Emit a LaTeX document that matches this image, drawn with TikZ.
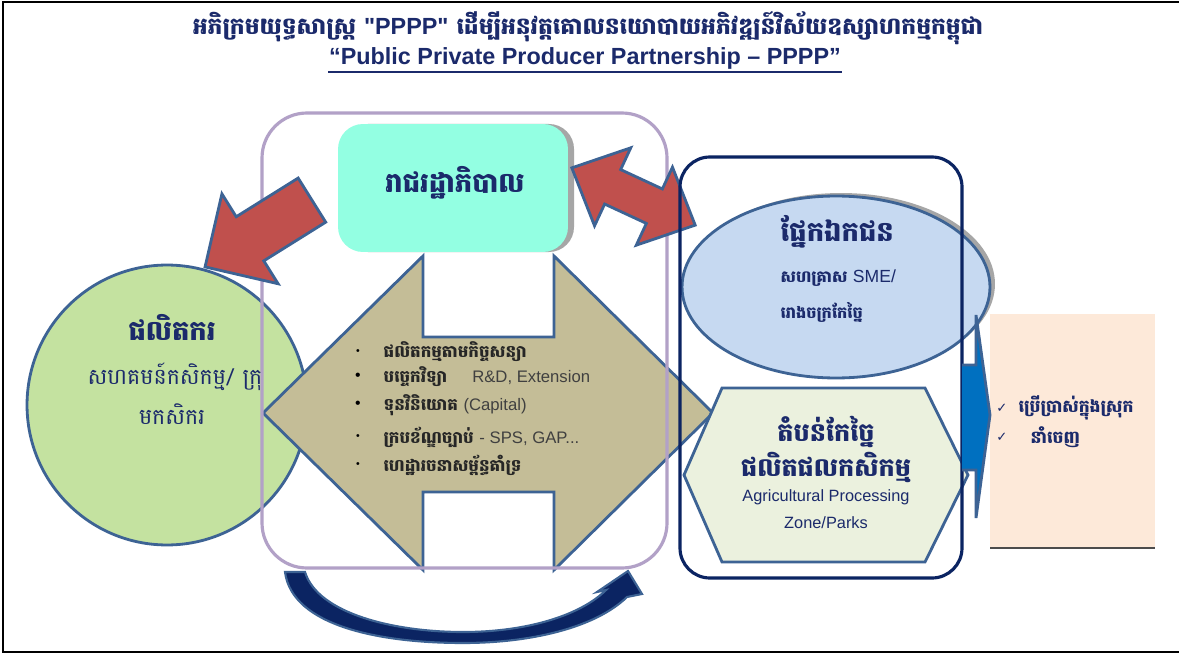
\documentclass[tikz,border=0pt]{standalone}
\usepackage{fontspec}
\setmainfont{Liberation Sans}
\newfontfamily\gerade{Liberation Sans}[Ligatures=TeXOff]
\newfontfamily\khmer[Script=Khmer]{Battambang}
\newfontfamily\haken{DejaVu Sans}
\usetikzlibrary{shapes.geometric}

\definecolor{navytext}{HTML}{1B2A6B}
\definecolor{stahlblau}{HTML}{3D6394}
\definecolor{lila}{HTML}{B2A1C7}
\definecolor{marine}{HTML}{0B2462}
\definecolor{tuerkis}{HTML}{93FFE2}
\definecolor{hellgruen}{HTML}{C4E2A0}
\definecolor{sand}{HTML}{C4BD97}
\definecolor{ziegel}{HTML}{C0504D}
\definecolor{eisblau}{HTML}{C6D9F1}
\definecolor{blassgruen}{HTML}{EBF1DE}
\definecolor{pfirsich}{HTML}{FDE9D9}
\definecolor{koenigsblau}{HTML}{0070C0}
\definecolor{schattengrau}{HTML}{A6A6A6}

\newcommand*{\khfont}[1]{\khmer\bfseries\fontsize{#1}{#1}\selectfont}

\begin{document}
\begin{tikzpicture}[
		x=0.02cm,
		y=-0.02cm,
		thick
	]
		\tikzstyle{umriss}=[draw=stahlblau, line width=1.6pt]
		\tikzstyle{titelstil}=[text=navytext, inner sep=0pt, font=\khfont{13.3}]
		\tikzstyle{untertitelstil}=[text=navytext, inner sep=0pt, font=\bfseries\fontsize{13.3}{15}\selectfont]
		\tikzstyle{kopfkh}=[text=navytext, inner sep=0pt, font=\khfont{15.6}]
		\tikzstyle{kleinkh}=[text=navytext, inner sep=0pt, font=\khfont{9.2}]
		\tikzstyle{kreistext}=[text=navytext, inner sep=0pt, font=\khmer\fontsize{12.6}{12.6}\selectfont]
		\tikzstyle{listenpunkt}=[text=black!85, inner sep=0pt, anchor=west, font=\khfont{9.5}]
		\tikzstyle{punkt}=[text=black, inner sep=0pt]
		\tikzstyle{latein}=[text=navytext, inner sep=0pt, font=\fontsize{9.3}{11}\selectfont]
		\tikzstyle{haekchen}=[text=navytext, inner sep=0pt, font=\haken\fontsize{7.5}{7.5}\selectfont]

		\useasboundingbox (0,0) rectangle (1179,655);
		\fill[white] (0,0) rectangle (1179,655);
		\draw[black, line width=1.3pt] (1190,2) -- (3,2) -- (3,652) -- (1190,652);

		% titel
		\node[titelstil] (titel) at (588,28) {អភិក្រមយុទ្ធសាស្ត្រ {\gerade\bfseries "PPPP"} ដើម្បីអនុវត្តគោលនយោបាយអភិវឌ្ឍន៍វិស័យឧស្សាហកម្មកម្ពុជា};
		\node[untertitelstil] (untertitel) at (585,58) {“Public Private Producer Partnership – PPPP”};
		\draw[navytext, line width=1.4pt] ([yshift=-1.5pt]untertitel.south west) -- ([yshift=-1.5pt]untertitel.south east);

		% produzenten
		\node[circle, fill=hellgruen, umriss, minimum size=5.6cm, inner sep=0pt] (produzent) at (167,405) {};

		% doppelpfeil mitte
		\filldraw[fill=sand, umriss] (263,413) -- (423,256) -- (423,337) -- (554,337) -- (554,256) -- (713,413)
			-- (554,570) -- (554,492) -- (423,492) -- (423,570) -- cycle;
		\draw[lila, line width=1.8pt, rounded corners=0.9cm] (262,113) rectangle (667,568);

		% regierung
		\fill[schattengrau, rounded corners=0.5cm] (343,124) rectangle (574,252);
		\node[fill=tuerkis, rounded corners=0.5cm, minimum width=4.6cm, minimum height=2.56cm, inner sep=0pt] (regierung) at (453,188) {};

		% rote pfeile
		\begin{scope}[shift={(258.5,233.5)}, rotate=212]
			\filldraw[fill=ziegel, umriss] (-63,-26) -- (10,-26) -- (10,-53) -- (63,0) -- (10,53) -- (10,26) -- (-63,26) -- cycle;
		\end{scope}
		\begin{scope}[shift={(633.5,196.5)}, rotate=-24.9]
			\filldraw[fill=ziegel, umriss] (-68,0) -- (-23,-43) -- (-23,-19) -- (23,-19) -- (23,-43) -- (68,0)
				-- (23,43) -- (23,19) -- (-23,19) -- (-23,43) -- cycle;
		\end{scope}

		% privatsektor
		\node[ellipse, fill=schattengrau, minimum width=6.16cm, minimum height=3.64cm, inner sep=0pt] (schatten) at (841,284) {};
		\node[ellipse, fill=eisblau, umriss, minimum width=6.16cm, minimum height=3.64cm, inner sep=0pt] (privat) at (836,287) {};

		% verarbeitungszone
		\filldraw[fill=blassgruen, umriss] (722,388) -- (925,388) -- (968,475) -- (925,562) -- (722,562) -- (684,475) -- cycle;
		\draw[marine, line width=1.8pt, rounded corners=0.6cm] (680,157) rectangle (962,578);

		% markt
		\fill[pfirsich] (990,314) rectangle (1155,548);
		\draw[black!70, line width=1pt] (990,548) -- (1155,548);
		\filldraw[fill=koenigsblau, umriss] (962,365) -- (976,365) -- (976,315) -- (990,415) -- (976,518) -- (976,470) -- (962,470);

		% kreislauf unten
		\filldraw[fill=marine, draw=stahlblau, line width=1.2pt]
			(285,572) -- (305,572)
			.. controls (318,614) and (395,632) .. (463,632)
			.. controls (530,632) and (582,614) .. (606,590)
			-- (597,592) -- (628,571) -- (642,594) -- (627,597)
			.. controls (595,628) and (530,643) .. (463,643)
			.. controls (380,643) and (292,626) .. (285,572) -- cycle;

		% texte
		\node[kopfkh] (regierungtext) at (455,183) {រាជរដ្ឋាភិបាល};

		\node[kopfkh] (produzenttitel) at (172,327) {ផលិតករ};
		\node[kreistext] (produzent1) at (175,377) {សហគមន៍កសិកម្ម/ ក្រុ};
		\node[kreistext] (produzent2) at (172,414) {មកសិករ};

		\node[punkt, font=\fontsize{6}{6}\selectfont] (b1) at (358,352) {•};
		\node[punkt, font=\fontsize{9}{9}\selectfont] (b2) at (358,377) {•};
		\node[punkt, font=\fontsize{9}{9}\selectfont] (b3) at (358,405) {•};
		\node[punkt, font=\fontsize{6}{6}\selectfont] (b4) at (358,437) {•};
		\node[punkt, font=\fontsize{6}{6}\selectfont] (b5) at (358,465) {•};
		\node[listenpunkt] (l1) at (383,352) {ផលិតកម្មតាមកិច្ចសន្យា};
		\node[listenpunkt] (l2) at (383,377) {បច្ចេកវិទ្យា\hspace{1.5em}{\rmfamily\mdseries\color{black!75}R\&D, Extension}};
		\node[listenpunkt] (l3) at (383,405) {ទុនវិនិយោគ {\rmfamily\mdseries\color{black!75}(Capital)}};
		\node[listenpunkt] (l4) at (383,437) {ក្របខ័ណ្ឌច្បាប់ {\rmfamily\mdseries\color{black!75}- SPS, GAP...}};
		\node[listenpunkt] (l5) at (383,465) {ហេដ្ឋារចនាសម្ព័ន្ធគាំទ្រ};

		\node[kopfkh, anchor=west] (privattitel) at (780,232) {ផ្នែកឯកជន};
		\node[kleinkh, anchor=west] (privat1) at (780,278) {សហគ្រាស {\rmfamily\mdseries\fontsize{10}{10}\selectfont SME/}};
		\node[kleinkh, anchor=west] (privat2) at (780,312) {រោងចក្រកែច្នៃ};

		\node[kopfkh, font=\khfont{14.5}] (zone1) at (826,432) {តំបន់កែច្នៃ};
		\node[kopfkh, font=\khfont{14.5}] (zone2) at (826,467) {ផលិតផលកសិកម្ម};
		\node[latein] (zone3) at (826,497) {Agricultural Processing};
		\node[latein] (zone4) at (826,523) {Zone/Parks};

		\node[haekchen] (h1) at (1002,408) {✓};
		\node[haekchen] (h2) at (1002,437) {✓};
		\node[kleinkh, font=\khfont{9.8}, anchor=west] (markt1) at (1018,408) {ប្រើប្រាស់ក្នុងស្រុក};
		\node[kleinkh, font=\khfont{9.8}, anchor=west] (markt2) at (1030,437) {នាំចេញ};
	\end{tikzpicture}
\end{document}
